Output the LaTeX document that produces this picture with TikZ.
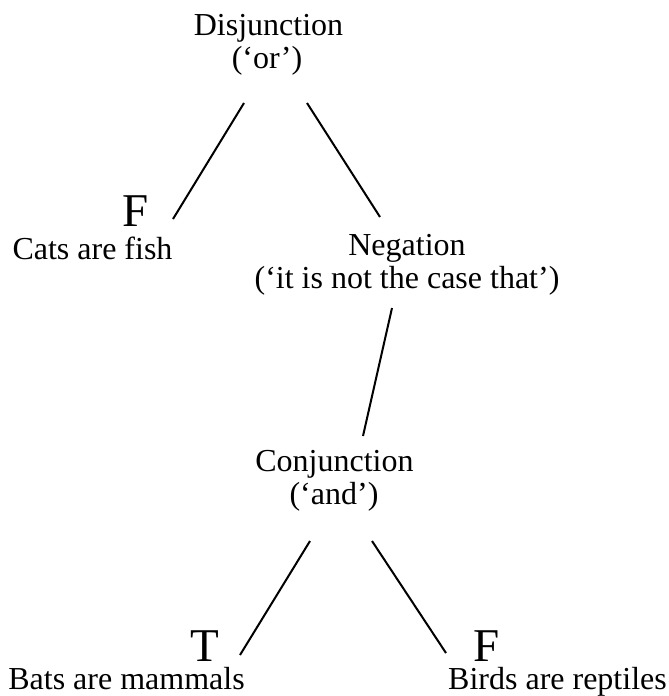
\documentclass[tikz,border=0pt]{standalone}
\usepackage{fontspec}
\setmainfont{Liberation Serif}
\tikzset{
  lbl/.style={inner sep=0pt, anchor=base, font=\fontsize{32}{33}\selectfont},
  tv/.style={inner sep=0pt, anchor=base, font=\fontsize{47}{48}\selectfont},
  edge/.style={line width=2pt, line cap=butt}
}
\begin{document}
\begin{tikzpicture}[x=1pt,y=-1pt]
\useasboundingbox (0,0) rectangle (669,696);
% labels
\node[lbl] (dis) at (268.5,35) {Disjunction};
\node[lbl] (disor) at (267,68) {(‘or’)};
\node[tv] (f1) at (136,226) {F};
\node[lbl] (cats) at (92.5,259) {Cats are fish};
\node[lbl] (neg) at (407,255) {Negation};
\node[lbl] (negtxt) at (407,288) {(‘it is not the case that’)};
\node[lbl] (con) at (334.5,471) {Conjunction};
\node[lbl] (conand) at (334,504) {(‘and’)};
\node[tv] (t1) at (205,661) {T};
\node[lbl] (bats) at (126.5,689) {Bats are mammals};
\node[tv] (f2) at (487,661) {F};
\node[lbl] (birds) at (557.5,689) {Birds are reptiles};
% connector end points
\coordinate (d1) at (244,103);
\coordinate (c1) at (173,219);
\coordinate (d2) at (307,103);
\coordinate (n1) at (380,217);
\coordinate (n2) at (392,308);
\coordinate (k1) at (363,436);
\coordinate (k2) at (310,541);
\coordinate (b1) at (240,655);
\coordinate (k3) at (372,541);
\coordinate (r1) at (446,653);
% connectors
\draw[edge] (d1) -- (c1);
\draw[edge] (d2) -- (n1);
\draw[edge] (n2) -- (k1);
\draw[edge] (k2) -- (b1);
\draw[edge] (k3) -- (r1);
\end{tikzpicture}
\end{document}
